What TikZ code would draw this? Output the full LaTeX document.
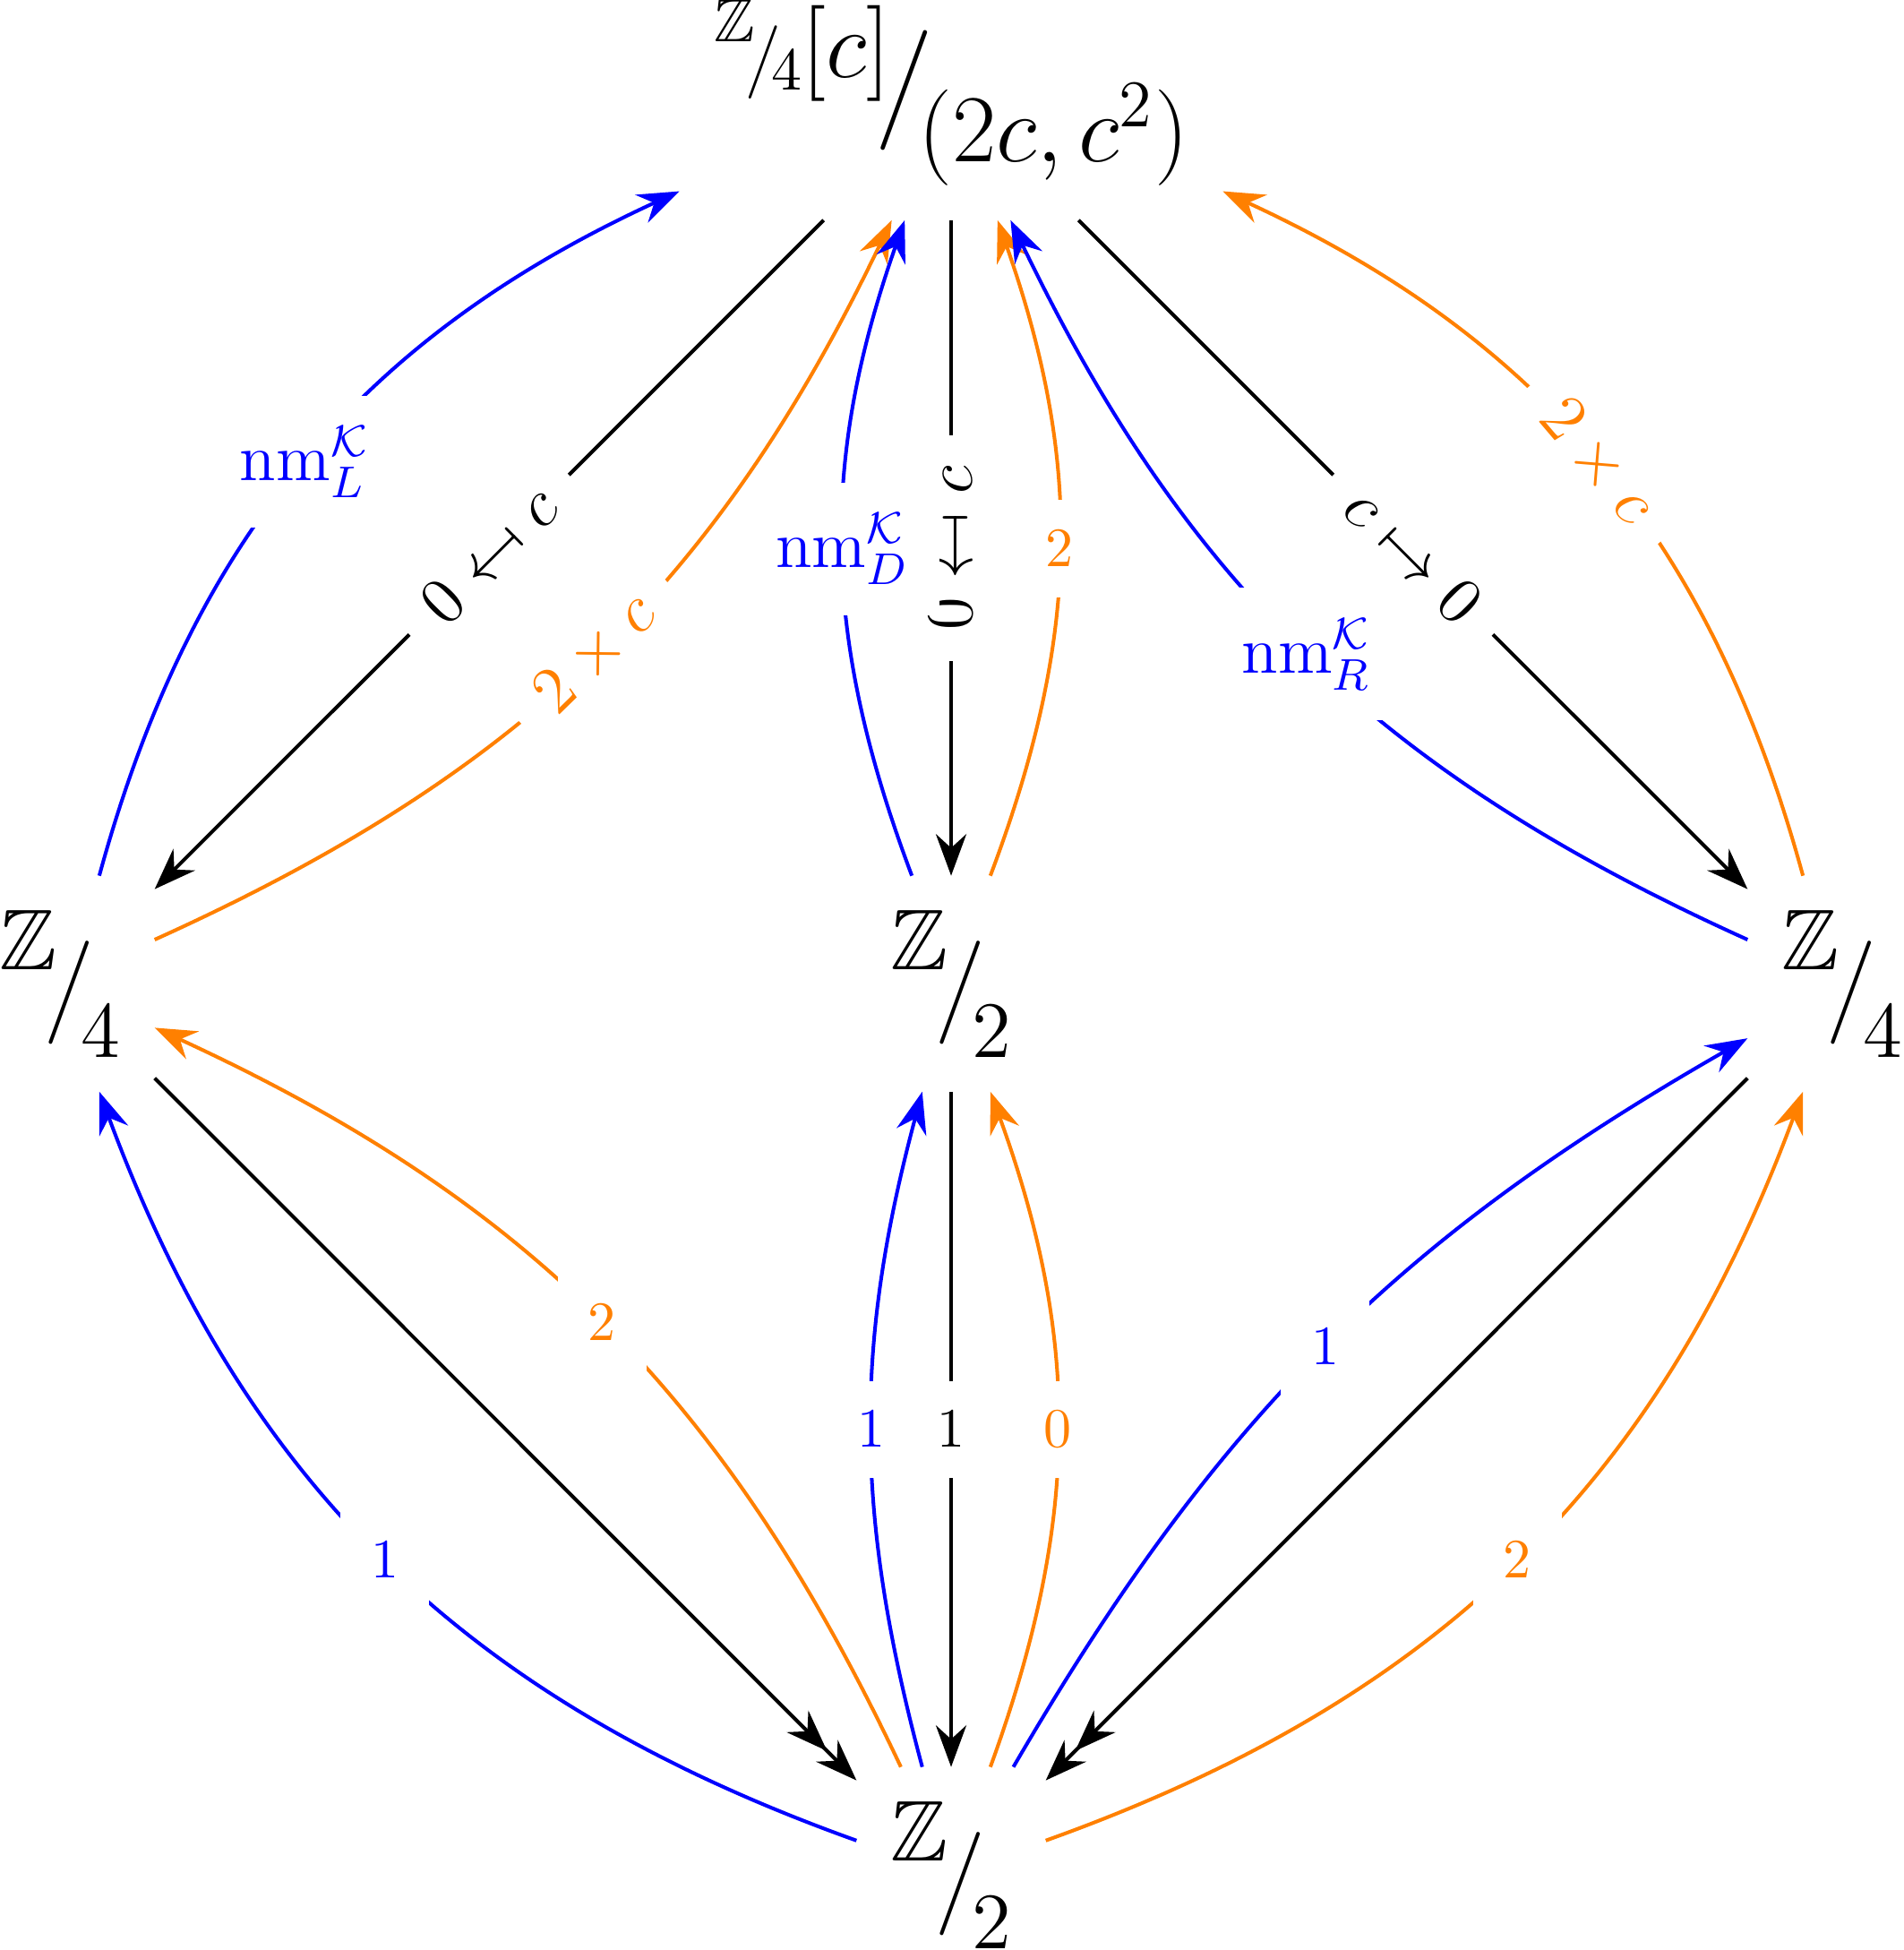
\documentclass[tikz,border=0pt]{standalone}
\usepackage{amsmath}
\usepackage{amssymb}
\usepackage{graphicx}
\usetikzlibrary{arrows.meta}

\newcommand{\quo}[4]{\raisebox{#3}{#1}\kern-.15em$\big/$\kern-.15em\raisebox{#4}{#2}}
\newcommand{\mapsback}{\mathrel{\reflectbox{$\mapsto$}}}

\begin{document}
\begin{tikzpicture}[>={Stealth[length=7.5pt,width=5.5pt,inset=2.5pt]}]
    \newcommand{\nm}[1]{\mathrm{nm}^{\mathcal{K}}_{#1}}
    \tikzstyle{obj}=[
      inner sep=6pt,
      font=\fontsize{15.5}{18}\selectfont,
    ]
    \tikzstyle{topobj}=[
      obj,
      font=\fontsize{18}{21}\selectfont,
    ]
    \tikzstyle{lab}=[
      midway,
      fill=white,
      inner sep=5.5pt,
      font=\fontsize{10.4}{12}\selectfont,
    ]
    \tikzstyle{blab}=[
      lab,
      font=\fontsize{12}{14}\selectfont,
    ]
    \tikzstyle{dedge} = [->,line width=0.65pt]
    \tikzstyle{sedge} = [->>,line width=0.65pt]

    \useasboundingbox (-6.02,-6.115) rectangle (6.03,6.225);

    \coordinate (midAnchor) at (0,0);

    % objects
    {
      \node[topobj] (top) at ([yshift=5.64cm] midAnchor) {\quo{{\fontsize{11}{13}\selectfont\quo{$\mathbb{Z}$}{$4$}{.6em}{-.2em}}{\fontsize{17}{20}\selectfont$[c]$}}{$(2c,c^2)$}{.37em}{-.47em}};
      \node[obj] (left) at ([xshift=-5.64cm] midAnchor) {\quo{$\mathbb{Z}$}{$4$}{.5em}{-.52em}};
      \node[obj] (mid) at (midAnchor) {\quo{$\mathbb{Z}$}{$2$}{.5em}{-.52em}};
      \node[obj] (right) at ([xshift=5.64cm] midAnchor) {\quo{$\mathbb{Z}$}{$4$}{.5em}{-.52em}};
      \node[obj] (bot) at ([yshift=-5.64cm] midAnchor) {\quo{$\mathbb{Z}$}{$2$}{.5em}{-.52em}};
    }

    % maps out of the top
    {
      \draw[dedge] (top) -- node[blab,sloped] {$0 \mapsback c$} (left);
      \draw[dedge] (top) -- node[blab,rotate=90] {$0 \mapsback c$} (mid);
      \draw[dedge] (top) -- node[blab,sloped] {$c \mapsto 0$} (right);
    }

    % maps into the top
    {
      \draw[dedge, blue] (left) to[bend left=25] node[blab] {$\nm{L}$} (top);
      \draw[dedge, orange] (left) to[bend right=20] node[blab,sloped] {$2\times c$} (top);
      \draw[dedge, blue] (mid) to[bend left=20] node[blab] {$\nm{D}$} (top);
      \draw[dedge, orange] (mid) to[bend right=20] node[lab] {$2$} (top);
      \draw[dedge, blue] (right) to[bend left=20] node[blab] {$\nm{R}$} (top);
      \draw[dedge, orange] (right) to[bend right=25] node[blab,sloped] {$2\times c$} (top);
    }

    % maps into the bottom
    {
      \draw[sedge] (left) -- (bot);
      \draw[dedge] (mid) -- node[lab] {$1$} (bot);
      \draw[sedge] (right) -- (bot);
    }

    % maps out of the bottom
    {
      \draw[dedge, blue] (bot) to[bend left=25] node[lab] {$1$} (left);
      \draw[dedge, orange] (bot) to[bend right=20] node[lab] {$2$} (left);
      \draw[dedge, blue] (bot) to[bend left=15] node[lab] {$1$} (mid);
      \draw[dedge, orange] (bot) to[bend right=20] node[lab] {$0$} (mid);
      \draw[dedge, blue] (bot) to[bend left=15] node[lab] {$1$} (right);
      \draw[dedge, orange] (bot) to[bend right=25] node[lab] {$2$} (right);
    }
\end{tikzpicture}
\end{document}
